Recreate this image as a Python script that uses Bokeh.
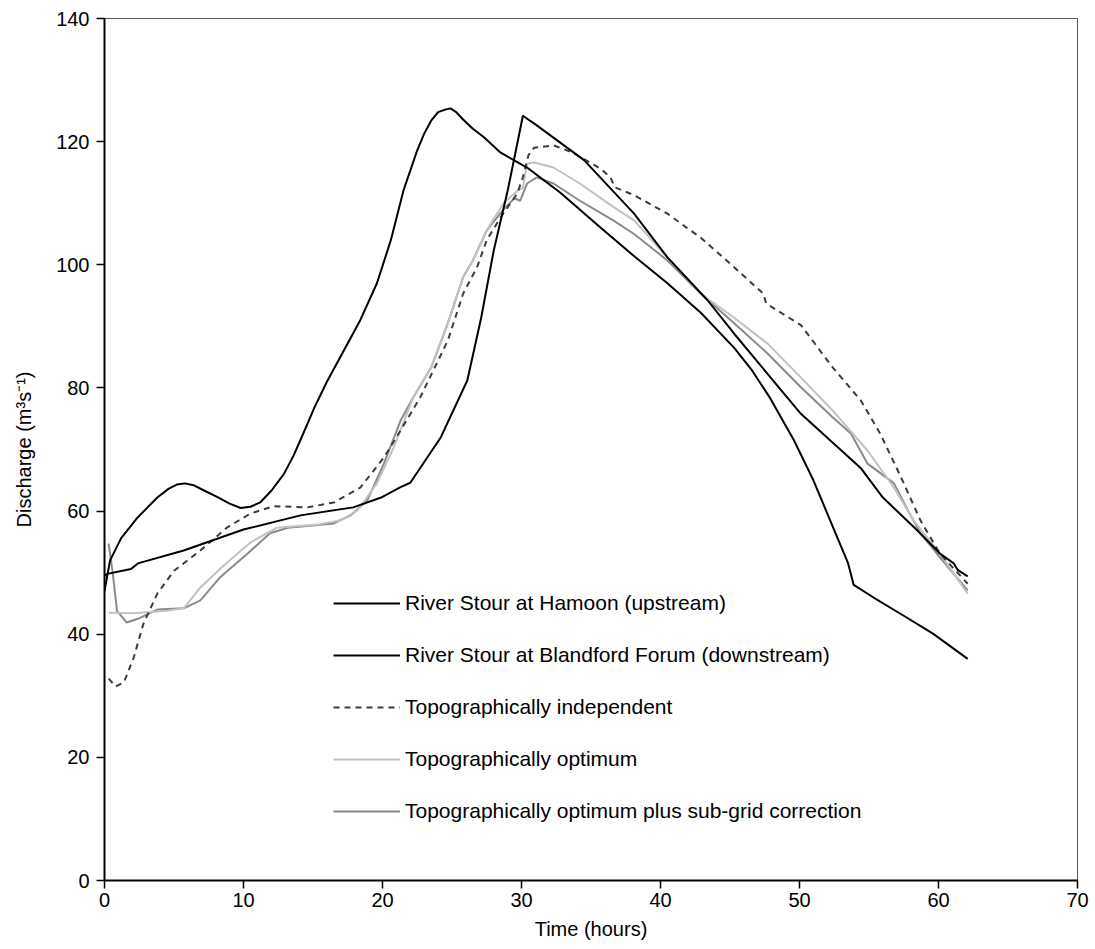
from bokeh.plotting import figure
from bokeh.models import Legend, LegendItem, FixedTicker, Range1d
from bokeh.embed import file_html
from bokeh.resources import INLINE

# ---- data ----
t_up = [0, 0.4, 1.2, 2.4, 3.8, 4.6, 5.2, 5.8, 6.4, 7.2, 8.1, 9.0, 9.8, 10.5, 11.2, 12.0,
        12.9, 13.6, 14.3, 15.1, 16.0, 17.2, 18.4, 19.6, 20.6, 21.5, 22.5, 23.0, 23.5, 24.0,
        24.5, 24.9, 25.3, 25.8, 26.5, 27.3, 28.5, 30.4, 32.8, 35.7, 38.0, 40.5, 42.9, 45.3,
        46.6, 47.9, 49.6, 51.0, 52.0, 53.5, 53.9, 55.3, 57.5, 59.6, 62.1]
q_up = [47, 52, 55.6, 59, 62.2, 63.6, 64.3, 64.5, 64.2, 63.3, 62.3, 61.2, 60.5, 60.7, 61.4, 63.3,
        66, 69, 72.6, 76.8, 81, 86, 91, 97, 104, 112, 118.6, 121.3, 123.4, 124.8,
        125.2, 125.4, 124.8, 123.6, 122.1, 120.7, 118.2, 115.8, 111.7, 106, 101.6, 97, 92.2, 86.5,
        82.8, 78.3, 71.5, 65, 59.6, 51.5, 48, 46, 43, 40.1, 36]

t_down = [0, 0.2, 1.9, 2.4, 5.7, 10.0, 14.1, 17.9, 19.9, 21.3, 22.0, 24.2, 26.1, 27.1,
          28.0, 29.0, 29.6, 30.1, 31.0, 34.5, 38.1, 40.5, 43.4, 45.3, 47.7, 50.1, 54.4,
          56.0, 58.5, 60.1, 61.1, 61.4, 62.1]
q_down = [49.5, 49.8, 50.6, 51.5, 53.6, 57, 59.3, 60.6, 62.2, 63.9, 64.6, 72, 81.2, 91.4,
          102.3, 112, 118.6, 124.2, 122.8, 117, 108.3, 101.2, 94.2, 88.8, 82.3, 75.8, 67,
          62.2, 56.8, 53.1, 51.5, 50.4, 49.4]

t_indep = [0.3, 0.8, 1.4, 2.1, 2.8, 3.8, 5.0, 6.9, 8.8, 10.5, 12.2, 14.6, 16.5, 18.4, 20.1,
           21.3, 22.7, 24.7, 25.8, 26.8, 27.5, 28.5, 29.7, 30.1, 30.5, 30.9, 32.3, 33.7,
           35.7, 36.4, 36.7, 38.1, 40.5, 41.9, 42.9, 45.3, 47.4, 47.6, 50.1, 52.4, 54.4,
           55.8, 57.3, 58.7, 60.1, 62.1]
q_indep = [32.8, 31.5, 32.2, 36.2, 41.7, 46.6, 50.3, 53.6, 57.3, 59.6, 60.8, 60.6, 61.4, 63.8, 68.7,
           73.1, 78.4, 87.7, 95.3, 99.6, 104, 107.7, 111.6, 114.2, 117.8, 119, 119.4, 118.2,
           115.6, 114.2, 112.6, 111.3, 108.3, 106, 104.4, 99.6, 95.3, 93.7, 90.2, 83.3, 78,
           72.6, 65.5, 58.5, 53.1, 48.2]

t_opt = [0.3, 2.1, 4.5, 5.7, 6.9, 8.6, 10.5, 12.4, 15.3, 17.0, 18.2, 19.6, 20.8, 22.2, 23.5,
         24.7, 25.8, 26.5, 27.5, 28.7, 29.7, 30.1, 30.4, 30.9, 32.3, 34.2, 36.6, 38.1, 40.5,
         42.9, 45.3, 47.7, 50.1, 52.4, 54.9, 56.8, 58.2, 60.1, 62.1]
q_opt = [43.5, 43.4, 43.8, 44.2, 47.6, 51.2, 54.9, 57.3, 57.8, 58.5, 60.1, 64.5, 70.3, 78.4, 83.3,
         90.5, 98, 100.7, 105.6, 110, 112, 112.5, 116.4, 116.6, 115.8, 113.2, 109.4, 107.2, 101.2,
         95.3, 91.4, 87.2, 81.7, 76.3, 69.8, 63.8, 58.5, 53.1, 46.6]

t_sub = [0.3, 0.6, 0.9, 1.6, 2.4, 3.8, 5.7, 6.9, 8.3, 10.3, 11.9, 13.2, 16.5, 17.7, 18.9,
         20.1, 21.3, 22.2, 23.5, 24.7, 25.8, 26.5, 27.5, 28.7, 29.5, 29.9, 30.4, 31.1, 32.3,
         34.2, 36.6, 38.1, 40.5, 42.9, 45.3, 47.7, 50.1, 52.4, 53.7, 54.9, 56.8, 57.8, 58.7,
         60.1, 62.1]
q_sub = [54.7, 49.8, 43.8, 41.9, 42.5, 44, 44.2, 45.5, 49.2, 53.1, 56.4, 57.3, 58, 59.3, 61.7,
         67.7, 74.7, 78.4, 83.3, 90.5, 98, 100.7, 105.6, 109, 110.8, 110.4, 113.2, 114.2, 113.2,
         110.4, 107.2, 105, 100.7, 95.3, 90.5, 85.6, 80.1, 75.2, 72.6, 67.7, 64.5, 60.1, 56.4,
         52.5, 47.1]

labels = ["River Stour at Hamoon (upstream)",
          "River Stour at Blandford Forum (downstream)",
          "Topographically independent",
          "Topographically optimum",
          "Topographically optimum plus sub-grid correction"]

x_ticks = [0, 10, 20, 30, 40, 50, 60, 70]
y_ticks = [0, 20, 40, 60, 80, 100, 120, 140]

FONT = "Liberation Sans"

p = figure(width=1092, height=945, x_range=Range1d(0, 70), y_range=Range1d(0, 140),
           output_backend="svg", toolbar_location=None,
           min_border_left=104, min_border_top=18, min_border_right=15, min_border_bottom=65)

p.xgrid.visible = False
p.ygrid.visible = False
p.outline_line_color = "#555555"
p.outline_line_width = 1
p.background_fill_color = "white"
p.border_fill_color = "white"

r_sub = p.line(t_sub, q_sub, line_color="#8a8a8a", line_width=2)
r_opt = p.line(t_opt, q_opt, line_color="#c2c2c2", line_width=2)
r_ind = p.line(t_indep, q_indep, line_color="#3c3c3c", line_width=2, line_dash="6 5")
r_down = p.line(t_down, q_down, line_color="#000000", line_width=2)
r_up = p.line(t_up, q_up, line_color="#000000", line_width=2)

p.xaxis.ticker = FixedTicker(ticks=x_ticks)
p.yaxis.ticker = FixedTicker(ticks=y_ticks)
for ax in (p.xaxis[0], p.yaxis[0]):
    ax.axis_line_color = "black"
    ax.axis_line_width = 2
    ax.major_tick_line_color = "black"
    ax.major_tick_line_width = 1.5
    ax.major_tick_out = 8
    ax.major_tick_in = 0
    ax.minor_tick_line_color = None
    ax.major_label_text_font = FONT
    ax.major_label_text_font_size = "20px"
    ax.major_label_text_color = "black"
    ax.major_label_standoff = 7
    ax.axis_label_text_font = FONT
    ax.axis_label_text_font_size = "20px"
    ax.axis_label_text_font_style = "normal"
    ax.axis_label_text_color = "black"

p.xaxis.axis_label = "Time (hours)"
p.yaxis.axis_label = "Discharge (m³s⁻¹)"
p.xaxis.major_label_standoff = 4
p.xaxis.axis_label_standoff = 8
p.yaxis.axis_label_standoff = 18

legend = Legend(items=[LegendItem(label=labels[0], renderers=[r_up]),
                       LegendItem(label=labels[1], renderers=[r_down]),
                       LegendItem(label=labels[2], renderers=[r_ind]),
                       LegendItem(label=labels[3], renderers=[r_opt]),
                       LegendItem(label=labels[4], renderers=[r_sub])],
                location=(229, 57))
legend.padding = 0
legend.margin = 0
legend.border_line_color = None
legend.background_fill_alpha = 0
legend.glyph_width = 67
legend.glyph_height = 20
legend.label_height = 20
legend.label_standoff = 5
legend.spacing = 28
legend.label_text_font = FONT
legend.label_text_font_size = "21px"
legend.label_text_color = "black"
legend.click_policy = "none"
p.add_layout(legend)

open("out.html", "w").write(file_html(p, INLINE))
